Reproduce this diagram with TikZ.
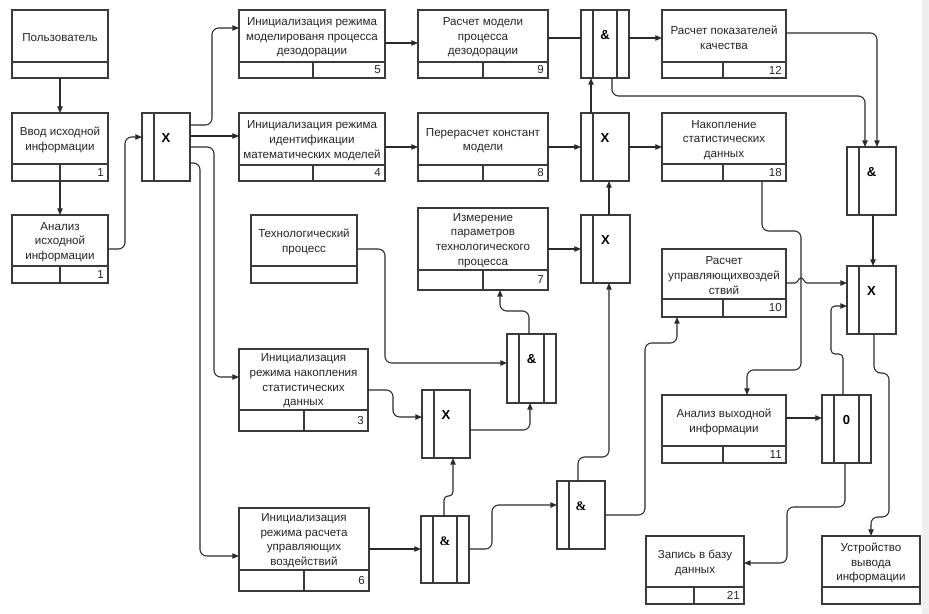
\documentclass[tikz,border=0pt]{standalone}
\usepackage{fontspec}
\setmainfont{Liberation Sans}
\newfontfamily\ampserif{Liberation Serif}
\usetikzlibrary{fit,arrows.meta}
\definecolor{boxc}{HTML}{3A3A3A}
\definecolor{linec}{HTML}{2A2A2A}
\definecolor{txtc}{HTML}{262626}
\definecolor{stripc}{HTML}{EFEFEF}
\tikzset{
  blk/.style={draw=boxc, line width=0.9pt, inner sep=0pt, outer sep=0pt},
  blkline/.style={draw=boxc, line width=0.9pt},
  txt/.style={align=center, font=\fontsize{8.7}{11}\selectfont, text=txtc, inner sep=0pt},
  num/.style={font=\fontsize{8.7}{11}\selectfont, text=txtc, inner sep=0pt},
  jlbl/.style={font=\fontsize{9.8}{11}\selectfont\bfseries, text=black, inner sep=0pt},
  conn/.style={draw=linec, line width=0.8pt},
  arr/.style={conn, -{Triangle[length=5pt,width=4pt]}},
  rc/.style={rounded corners=5pt},
  rcs/.style={rounded corners=3pt}
}
% name, x1, y1, x2, y2, ydiv, xsplit, number, text
\newcommand\funcblk[9]{%
  \node[blk, fit={(#2,#3)(#4,#5)}] (#1) {};
  \draw[blkline] (#2,#6) -- (#4,#6) (#7,#6) -- (#7,#5);
  \node[num, anchor=east] (#1-n) at (#4-4,{(#6+#5)/2}) {#8};
  \node[txt] (#1-t) at ({(#2+#4)/2},{(#3+#6)/2+1.5}) {#9};
}
% name, x1, y1, x2, y2, ydiv, text
\newcommand\extblk[7]{%
  \node[blk, fit={(#2,#3)(#4,#5)}] (#1) {};
  \draw[blkline] (#2,#6) -- (#4,#6);
  \node[txt] (#1-t) at ({(#2+#4)/2},{(#3+#6)/2+1.5}) {#7};
}
% name, x1, y1, x2, y2, label, double(0/1), font
\newcommand\junc[8]{%
  \node[blk, fit={(#2,#3)(#4,#5)}] (#1) {};
  \draw[blkline] (#2+12,#3) -- (#2+12,#5);
  \ifnum#7=1 \draw[blkline] (#4-12,#3) -- (#4-12,#5);\fi
  \node[jlbl] (#1-l) at ({(#2+#4)/2},#3+25) {#8#6};
}
\begin{document}
\begin{tikzpicture}[x=0.75pt,y=-0.75pt]
\useasboundingbox (0,0) rectangle (929,614);
\fill[white] (0,0) rectangle (929,614);
\fill[stripc] (922,0) rectangle (929,614);

% function blocks
\extblk{b0}{12}{10}{108}{78}{62}{Пользователь}
\funcblk{b1}{12}{113}{108}{181}{164}{60}{1}{Ввод исходной\\информации}
\funcblk{b2}{12}{215}{108}{283}{266}{60}{1}{Анализ\\исходной\\информации}
\funcblk{b5}{239}{10}{385}{78}{62}{313}{5}{Инициализация режима\\моделированя процесса\\дезодорации}
\funcblk{b9}{418}{10}{548}{78}{62}{483}{9}{Расчет модели\\процесса\\дезодорации}
\funcblk{b4}{239}{113}{385}{181}{165}{313}{4}{Инициализация режима\\идентификации\\математических моделей}
\funcblk{b8}{418}{113}{548}{181}{165}{483}{8}{Перерасчет констант\\модели}
\funcblk{b12}{662}{10}{786}{78}{62}{723}{12}{Расчет показателей\\качества}
\funcblk{b18}{662}{113}{786}{181}{164}{723}{18}{Накопление\\статистических\\данных}
\extblk{btp}{251}{215}{357}{283}{266}{Технологический\\процесс}
\funcblk{b7}{418}{208}{548}{290}{270}{483}{7}{Измерение\\параметров\\технологического\\процесса}
\funcblk{b10}{662}{249}{786}{317}{299}{723}{10}{Расчет\\управляющихвоздей\\ствий}
\funcblk{b3}{239}{349}{368}{431}{410}{304}{3}{Инициализация\\режима накопления\\статистических\\данных}
\funcblk{b6}{239}{508}{369}{591}{570}{304}{6}{Инициализация\\режима расчета\\управляющих\\воздействий}
\funcblk{b11}{662}{395}{786}{463}{446}{723}{11}{Анализ выходной\\информации}
\funcblk{b21}{646}{536}{744}{604}{587}{694}{21}{Запись в базу\\данных}
\extblk{bout}{822}{536}{920}{604}{587}{Устройство\\вывода\\информации}

% junctions
\junc{jx1}{142}{113}{190}{181}{X}{0}{}
\junc{ja1}{581}{10}{629}{78}{\&}{1}{}
\junc{jx2}{581}{113}{629}{181}{X}{0}{}
\junc{ja2}{847}{147}{896}{215}{\&}{0}{}
\junc{jx3}{581}{215}{630}{283}{X}{0}{}
\junc{jx4}{847}{266}{896}{334}{X}{0}{}
\junc{jam}{507}{334}{556}{403}{\&}{1}{}
\junc{jxl}{422}{390}{470}{458}{X}{0}{}
\junc{jal}{421}{516}{469}{583}{\&}{1}{\ampserif}
\junc{jar}{557}{481}{605}{549}{\&}{0}{\ampserif}
\junc{j0}{822}{395}{871}{463}{0}{1}{}

% connectors
\draw[arr] (b0.south) -- (b1.north);
\draw[arr] (b1.south) -- (b2.north);
\draw[arr, rc] (b2.east |- 0,249) -- (125,249) -- (125,137) -- (jx1.west |- 0,137);
\draw[arr, rc] (jx1.east |- 0,125) -- (212,125) -- (212,28) -- (b5.west |- 0,28);
\draw[arr] (jx1.east |- 0,136) -- (b4.west |- 0,136);
\draw[arr, rc] (jx1.east |- 0,147) -- (214,147) -- (214,377) -- (b3.west |- 0,377);
\draw[arr, rc] (jx1.east |- 0,163) -- (200,163) -- (200,556) -- (b6.west |- 0,556);

\draw[arr] (b5.east |- 0,43) -- (b9.west |- 0,43);
\draw[conn] (b9.east |- 0,38) -- (ja1.west |- 0,38);
\draw[arr] (ja1.east |- 0,38) -- (b12.west |- 0,38);
\draw[arr, rc] (b12.east |- 0,33) -- (877,33) -- (ja2.north -| 877,0);
\draw[arr, rc] (ja1.south -| 612,0) -- (612,96) -- (865,96) -- (ja2.north -| 865,0);

\draw[arr] (b4.east |- 0,147) -- (b8.west |- 0,147);
\draw[arr] (b8.east |- 0,147) -- (jx2.west |- 0,147);
\draw[arr] (jx2.north -| 591,0) -- (ja1.south -| 591,0);
\draw[arr] (jx2.east |- 0,147) -- (b18.west |- 0,147);
\draw[arr, rc] (b18.south -| 762,0) -- (762,231) -- (801,231) -- (801,370) -- (747,370) -- (b11.north -| 747,0);

\draw[arr] (jx3.north -| 609,0) -- (jx2.south -| 609,0);
\draw[arr] (b7.east |- 0,249) -- (jx3.west |- 0,249);
\draw[arr] (b10.east |- 0,283) -- (795,283) .. controls (798,283) and (798,278) .. (801,278) .. controls (804,278) and (804,283) .. (807,283) -- (jx4.west |- 0,283);
\draw[arr] (ja2.south -| 873,0) -- (jx4.north -| 873,0);
\draw[arr, rcs] (j0.north -| 843,0) -- (843,354) -- (831,354) -- (831,306) -- (jx4.west |- 0,306);
\draw[arr, rc] (jx4.south -| 874,0) -- (874,373) -- (889,373) -- (889,517) -- (871,517) -- (bout.north -| 871,0);
\draw[arr] (b11.east |- 0,418) -- (j0.west |- 0,418);
\draw[arr, rc] (j0.south -| 845,0) -- (845,507) -- (787,507) -- (787,563) -- (b21.east |- 0,563);

\draw[arr, rc] (btp.east |- 0,249) -- (385,249) -- (385,363) -- (jam.west |- 0,363);
\draw[arr, rc] (jam.north -| 529,0) -- (529,311) -- (500,311) -- (b7.south -| 500,0);
\draw[arr, rc] (b3.east |- 0,390) -- (393,390) -- (393,417) -- (jxl.west |- 0,417);
\draw[arr, rc] (jxl.east |- 0,430) -- (530,430) -- (jam.south -| 530,0);
\draw[arr] (b6.east |- 0,549) -- (jal.west |- 0,549);
\draw[arr, rcs] (jal.north -| 444,0) -- (444,496) -- (453,496) -- (jxl.south -| 453,0);
\draw[arr, rc] (jal.east |- 0,549) -- (492,549) -- (492,505) -- (jar.west |- 0,505);
\draw[arr, rc] (jar.north -| 578,0) -- (578,457) -- (609,457) -- (jx3.south -| 609,0);
\draw[arr, rc] (jar.east |- 0,515) -- (645,515) -- (645,343) -- (677,343) -- (b10.south -| 677,0);
\end{tikzpicture}
\end{document}
